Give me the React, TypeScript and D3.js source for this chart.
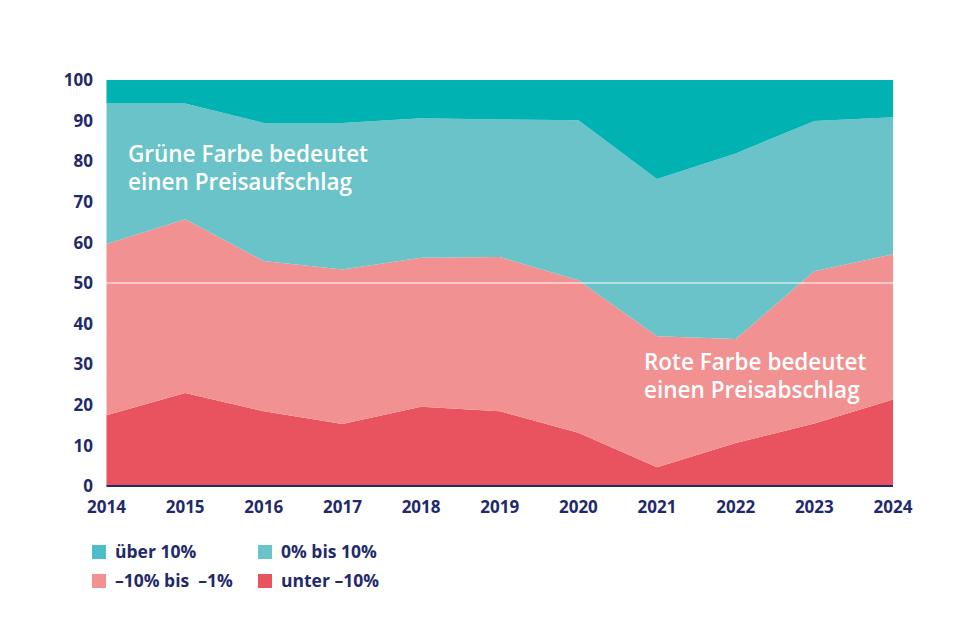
import React from "react";
import * as d3 from "d3";

const years = [2014, 2015, 2016, 2017, 2018, 2019, 2020, 2021, 2022, 2023, 2024];
const unter10 = [17.4, 22.9, 18.4, 15.3, 19.5, 18.4, 13.1, 4.6, 10.6, 15.4, 21.3];
const minus10bis1 = [42.2, 42.8, 37.0, 38.0, 36.7, 38.0, 37.6, 32.3, 25.6, 37.5, 35.8];
const null10 = [34.6, 28.5, 34.0, 36.1, 34.4, 33.9, 39.4, 38.7, 45.7, 37.0, 33.7];
const ueber10 = [5.8, 5.8, 10.6, 10.6, 9.4, 9.7, 9.9, 24.4, 18.1, 10.1, 9.2];
const yTicks = [0, 10, 20, 30, 40, 50, 60, 70, 80, 90, 100];

const seriesKeys = ["unter", "minus", "null", "ueber"];
const seriesLabels: Record<string, string> = {
  ueber: "über 10%",
  null: "0% bis 10%",
  minus: "\u201310% bis \u00a0\u20131%",
  unter: "unter \u201310%",
};
const colors: Record<string, string> = {
  ueber: "#00b2b2",
  null: "#6ac3c8",
  minus: "#f29191",
  unter: "#e9525f",
};
const legendColors: Record<string, string> = {
  ueber: "#4bbec7",
  null: "#6ac3c8",
  minus: "#f29191",
  unter: "#e9525f",
};

const NAVY = "#1f2a6b";
const FONT = "'Open Sans', 'Noto Sans', sans-serif";

export default function App() {
  const W = 960, H = 640;
  const left = 106.5, right = 893, top = 80, bottom = 486;
  const x = d3.scaleLinear().domain([2014, 2024]).range([left, right]);
  const y = d3.scaleLinear().domain([0, 100]).range([bottom, top]);

  const rows = years.map((yr, i) => ({
    year: yr,
    unter: unter10[i],
    minus: minus10bis1[i],
    null: null10[i],
    ueber: ueber10[i],
  }));
  const stacked = d3.stack<any>().keys(seriesKeys)(rows);
  const area = d3
    .area<any>()
    .x((d) => x(d.data.year))
    .y0((d) => y(d[0]))
    .y1((d) => y(d[1]));

  const legend = [
    { key: "ueber", col: 0, row: 0 },
    { key: "null", col: 1, row: 0 },
    { key: "minus", col: 0, row: 1 },
    { key: "unter", col: 1, row: 1 },
  ];

  return (
    <svg width={W} height={H} style={{ position: "absolute", left: 0, top: 0, background: "#fff" }}>
      {stacked.map((s) => (
        <path key={s.key} d={area(s as any) || ""} fill={colors[s.key]} />
      ))}
      <line x1={left} x2={right} y1={y(50)} y2={y(50)} stroke="#fff" strokeWidth={1.2} />
      <line x1={left} x2={right} y1={bottom} y2={bottom} stroke={NAVY} strokeWidth={2} />
      {yTicks.map((t) => (
        <text
          key={t}
          x={93}
          y={y(t)}
          dy="0.36em"
          textAnchor="end"
          fontFamily={FONT}
          fontWeight={700}
          fontSize={17}
          fill={NAVY}
        >
          {t}
        </text>
      ))}
      {years.map((yr) => (
        <text
          key={yr}
          x={x(yr)}
          y={513}
          textAnchor="middle"
          fontFamily={FONT}
          fontWeight={700}
          fontSize={17}
          fill={NAVY}
        >
          {yr}
        </text>
      ))}
      <text fontFamily={FONT} fontWeight={600} fontSize={22.5} fill="#fff">
        <tspan x={128} y={162}>Grüne Farbe bedeutet</tspan>
        <tspan x={128} y={190}>einen Preisaufschlag</tspan>
      </text>
      <text fontFamily={FONT} fontWeight={600} fontSize={22.5} fill="#fff">
        <tspan x={644} y={370}>Rote Farbe bedeutet</tspan>
        <tspan x={644} y={398}>einen Preisabschlag</tspan>
      </text>
      {legend.map((l) => {
        const lx = 92 + l.col * 166;
        const ly = 545 + l.row * 29;
        return (
          <g key={l.key}>
            <rect x={lx} y={ly} width={14} height={14} fill={legendColors[l.key]} />
            <text
              x={lx + 23}
              y={ly + 13}
              fontFamily={FONT}
              fontWeight={700}
              fontSize={17.5}
              fill={NAVY}
            >
              {seriesLabels[l.key]}
            </text>
          </g>
        );
      })}
    </svg>
  );
}
